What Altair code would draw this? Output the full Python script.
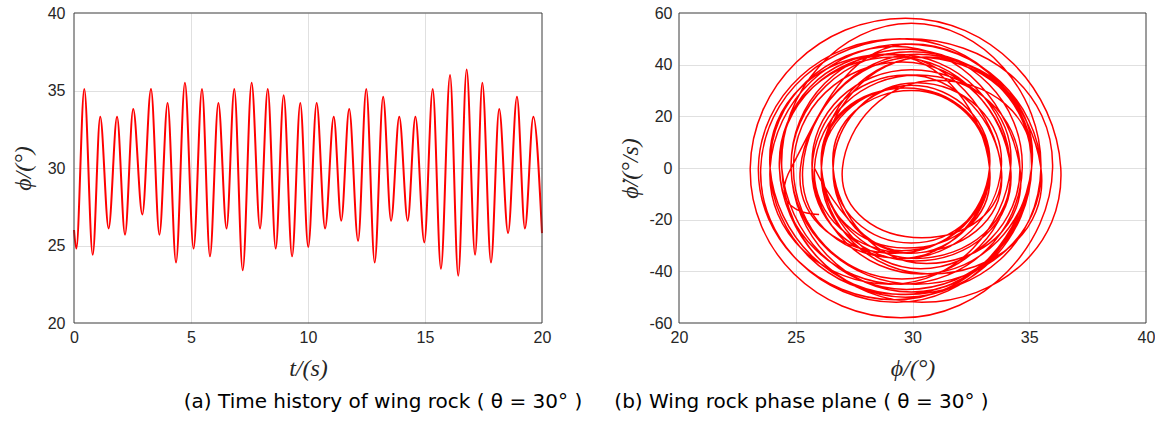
import altair as alt
import pandas as pd

# ---- data ----
# time history: extrema of phi (deg) and their times (s)
t_ext = [0.00, 0.10, 0.44, 0.80, 1.12, 1.48, 1.84, 2.18, 2.53, 2.92, 3.29, 3.65, 4.00, 4.36,
         4.74, 5.11, 5.47, 5.81, 6.17, 6.52, 6.85, 7.21, 7.59, 7.95, 8.28, 8.62, 8.96, 9.32,
         9.67, 10.01, 10.37, 10.73, 11.10, 11.42, 11.76, 12.14, 12.49, 12.85, 13.21, 13.55,
         13.90, 14.26, 14.59, 14.97, 15.33, 15.68, 16.07, 16.42, 16.78, 17.14, 17.45, 17.82,
         18.17, 18.55, 18.93, 19.27, 19.63, 20.00]
phi_ext = [26.0, 24.8, 35.1, 24.4, 33.3, 26.1, 33.3, 25.7, 33.8, 27.0, 35.1, 25.7, 34.2, 23.9,
           35.5, 24.8, 35.1, 24.3, 34.2, 26.1, 35.1, 23.4, 35.5, 26.1, 35.1, 24.8, 34.7, 24.3,
           34.2, 24.9, 34.2, 26.1, 33.3, 26.6, 33.8, 25.3, 35.1, 23.9, 34.6, 26.6, 33.3, 26.6,
           33.3, 25.2, 35.1, 23.5, 36.0, 23.05, 36.35, 24.4, 35.5, 23.9, 33.8, 25.8, 34.6, 26.1,
           33.3, 25.8]

# phase plane: start point, then for each half swing the mid angle and its rate
pp_start_phi = 26.0
pp_start_rate = -18
mid_phi = [29.95, 29.75, 28.85, 29.7, 29.7, 29.5, 29.75, 30.4, 31.05, 30.4, 29.95, 29.05,
           29.7, 30.15, 29.95, 29.7, 29.25, 30.15, 30.6, 29.25, 29.45, 30.8, 30.6, 29.95,
           29.75, 29.5, 29.25, 29.55, 29.55, 30.15, 29.7, 29.95, 30.2, 29.55, 30.2, 29.5,
           29.25, 30.6, 29.95, 29.95, 29.95, 29.25, 30.15, 29.3, 29.75, 29.5, 29.7, 30.4,
           29.95, 29.7, 28.85, 29.8, 30.2, 30.35, 29.7, 29.55]
mid_rate = [48, -47, 44, -31, 31, -35, 36, -27, 34, -41, 38, -45, 48, -45, 45, -50, 43, -36,
            43, -51, 50, -41, 43, -48, 46, -45, 44, -43, 41, -35, 31, -33, 33, -35, 44, -49,
            47, -37, 30, -29, 32, -33, 43, -52, 50, -58, 58, -52, 56, -49, 44, -33, 36, -39,
            31, -32]

t_range = [0, 20]
phi_range = [20, 40]
rate_range = [-60, 60]
t_ticks = [0, 5, 10, 15, 20]
phi_ticks = [20, 25, 30, 35, 40]
rate_ticks = [-60, -40, -20, 0, 20, 40, 60]

caption_a = "(a) Time history of wing rock ( θ = 30° )"
caption_b = "(b) Wing rock phase plane ( θ = 30° )"

# ---- tables ----
ts = pd.DataFrame({"t": t_ext, "phi": phi_ext})

rows = [(0, pp_start_phi, pp_start_rate)]
k = 1
for i in range(1, len(phi_ext)):
    rows.append((k, phi_ext[i], 0)); k += 1
    if i - 1 < len(mid_phi):
        rows.append((k, mid_phi[i - 1], mid_rate[i - 1])); k += 1
pp = pd.DataFrame(rows, columns=["k", "phi", "rate"])

frame_a = pd.DataFrame({"x0": [t_range[0]], "x1": [t_range[1]],
                        "y0": [phi_range[0]], "y1": [phi_range[1]]})
frame_b = pd.DataFrame({"x0": [phi_range[0]], "x1": [phi_range[1]],
                        "y0": [rate_range[0]], "y1": [rate_range[1]]})

TICK = "#262626"

def ax(values, title, **kw):
    lo, hi = values[0], values[-1]
    grid_color = {"condition": {"test": f"datum.value == {lo} || datum.value == {hi}",
                                "value": "transparent"},
                  "value": "#e0e0e0"}
    opts = dict(values=values, title=title, grid=True, gridColor=grid_color,
                domain=False, ticks=False, labelFlush=False,
                labelExpr="'' + datum.value",
                labelFont="Liberation Sans", labelFontSize=16, labelColor=TICK,
                titleFont="Liberation Serif", titleFontSize=24, titleFontStyle="italic",
                titleFontWeight="normal", titleColor=TICK)
    opts.update(kw)
    return alt.Axis(**opts)

CAP = dict(orient="bottom", anchor="middle", offset=12, font="DejaVu Sans",
           fontSize=20, fontWeight="normal", color="black")

def panel(df, xf, yf, xd, yd, xaxis, yaxis, fdf, line_kw, order=None):
    xs = alt.Scale(domain=xd, nice=False, zero=False)
    ys = alt.Scale(domain=yd, nice=False, zero=False)
    enc = dict(x=alt.X(xf, scale=xs, axis=xaxis), y=alt.Y(yf, scale=ys, axis=yaxis))
    if order:
        enc["order"] = order
    line = alt.Chart(df).mark_line(color="#ff0000", **line_kw).encode(**enc)
    box = alt.Chart(fdf).mark_rect(fillOpacity=0, stroke="#3a3a3a", strokeWidth=1).encode(
        x=alt.X("x0:Q", scale=xs, axis=xaxis), x2="x1:Q",
        y=alt.Y("y0:Q", scale=ys, axis=yaxis), y2="y1:Q",
    )
    return alt.layer(line, box)

xa_left = ax(t_ticks, "t/(s)", labelPadding=6, titlePadding=11)
ya_left = ax(phi_ticks, "ϕ/(°)", labelPadding=9, titlePadding=12)
xa_right = ax(phi_ticks, "ϕ/(°)", labelPadding=6, titlePadding=11)
ya_right = ax(rate_ticks, "ϕ̇/(°/s)", labelPadding=7, titlePadding=6)

left = panel(ts, "t:Q", "phi:Q", t_range, phi_range, xa_left, ya_left, frame_a,
             dict(strokeWidth=2, interpolate="monotone")).properties(
    width=468, height=310,
    title=alt.TitleParams(caption_a, dx=75, **CAP),
)

right = panel(pp, "phi:Q", "rate:Q", phi_range, rate_range, xa_right, ya_right, frame_b,
              dict(strokeWidth=1.5, interpolate="cardinal", tension=-0.65),
              order="k:Q").properties(
    width=467, height=310,
    title=alt.TitleParams(caption_b, dx=-111, **CAP),
)

chart = alt.hconcat(left, right, spacing=31).properties(
    padding={"left": 11, "top": 5, "right": 0, "bottom": 0},
    background="white",
).configure_view(strokeOpacity=0)

chart.save("out.html", embed_options={"renderer": "svg", "actions": False})
